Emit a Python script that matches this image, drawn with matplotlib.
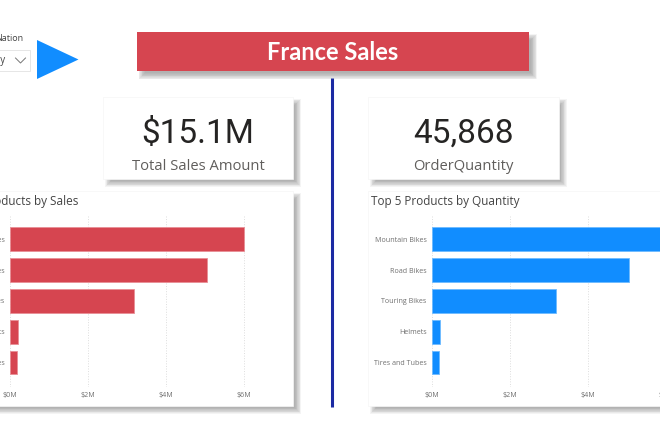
import matplotlib
matplotlib.use("Agg")
import matplotlib.pyplot as plt
from matplotlib.patches import Rectangle, Polygon

W, H = 660, 440

products = ["Mountain Bikes", "Road Bikes", "Touring Bikes", "Helmets", "Tires and Tubes"]
sales = [6.0, 5.06, 3.2, 0.21, 0.2]
quantity = [6.0, 5.06, 3.2, 0.21, 0.2]
ticks = [0, 2, 4, 6]
tick_labels = ["$0M", "$2M", "$4M", "$6M"]

RED = "#D64550"
BLUE = "#118DFF"
UI_FONT = "Open Sans"

fig = plt.figure(figsize=(W / 100, H / 100), dpi=100, facecolor="white")

# background layer in pixel coords, y going down
bg = fig.add_axes([0, 0, 1, 1])
bg.set_xlim(0, W)
bg.set_ylim(H, 0)
bg.axis("off")


def shadow(x0, y0, x1, y1):
    # stack of see-through rects to fake a soft shadow
    for grow in [3, 2.25, 1.5, 0.75, 0, -0.75, -1.5, -2.25, -3]:
        bg.add_patch(Rectangle((x0 + 5 - grow, y0 + 5 - grow), x1 - x0 + 2 * grow, y1 - y0 + 2 * grow,
                               fc="#666666", ec="none", alpha=0.07, zorder=1))


def card(x0, y0, x1, y1):
    shadow(x0, y0, x1, y1)
    bg.add_patch(Rectangle((x0, y0), x1 - x0, y1 - y0, fc="white", ec="#f5f5f5", lw=0.5, zorder=2))


# banner
shadow(136.5, 32, 529, 71.5)
bg.add_patch(Rectangle((136.5, 32), 392.5, 39.5, fc=RED, ec="none", zorder=2))
bg.text(333, 53, "France Sales", color="white", fontsize=17, fontweight="bold", family="Lato",
        ha="center", va="center", zorder=3)

# divider
bg.plot([332, 332], [78, 407], color="#1B2AA3", lw=2.2, solid_capstyle="butt", zorder=1)

# slicer bit on the left
bg.text(23, 38.5, "Nation", color="#444444", fontsize=6.5, family=UI_FONT, ha="right", va="center")
bg.add_patch(Rectangle((-5, 50.5), 35, 21, fc="white", ec="#e6e6e6", lw=0.7))
bg.text(5, 61, "Germany", color="#444444", fontsize=7, family=UI_FONT, ha="right", va="center")
bg.plot([15.5, 20.5, 25.5], [58, 63, 58], color="#777777", lw=0.7)
bg.add_patch(Polygon([(37, 40), (37, 79), (78.5, 59.5)], closed=True, fc=BLUE, ec="none"))

# kpi cards
card(103, 97, 293, 179)
bg.text(198, 133.5, "$15.1M", color="#252423", fontsize=24, family="Roboto", ha="center", va="center", zorder=3)
bg.text(198, 166, "Total Sales Amount", color="#605E5C", fontsize=10.6, family=UI_FONT, ha="center", va="center", zorder=3)

card(368, 97, 558.5, 179)
bg.text(463.5, 133.5, "45,868", color="#252423", fontsize=24, family="Roboto", ha="center", va="center", zorder=3)
bg.text(463.5, 166, "OrderQuantity", color="#605E5C", fontsize=10.6, family=UI_FONT, ha="center", va="center", zorder=3)

# chart cards, both run off the edge
card(-20, 191, 293, 406)
card(368, 191, 700, 406)
bg.text(78, 201, "Top 5 Products by Sales", color="#444444", fontsize=8.5, family=UI_FONT, ha="right", va="center", zorder=3)
bg.text(371, 201, "Top 5 Products by Quantity", color="#444444", fontsize=8.5, family=UI_FONT, ha="left", va="center", zorder=3)


def bar_chart(x_px, values, color, edge):
    top, bottom = 216, 387
    width = 39 * 6.5
    ax = fig.add_axes([x_px / W, 1 - bottom / H, width / W, (bottom - top) / H])
    ax.patch.set_alpha(0)
    ax.barh(products, values, height=0.77, color=color, edgecolor=edge, linewidth=0.6, zorder=3)
    ax.set_xlim(0, 6.5)
    ax.set_ylim(4.795, -0.757)
    ax.set_xticks(ticks)
    ax.set_xticklabels(tick_labels)
    ax.grid(axis="x", color="#dddddd", linestyle=":", linewidth=0.7, zorder=0)
    ax.tick_params(length=0, labelsize=5.1, labelcolor="#6f6f6f")
    ax.tick_params(axis="x", pad=3.5)
    ax.tick_params(axis="y", pad=3.5)
    for lab in ax.get_xticklabels() + ax.get_yticklabels():
        lab.set_family(UI_FONT)
    for s in ax.spines.values():
        s.set_visible(False)
    return ax


bar_chart(9.5, sales, RED, "#E88F96")
bar_chart(431.5, quantity, BLUE, "#6DBBFF")

fig.savefig("out.png", dpi=100)
